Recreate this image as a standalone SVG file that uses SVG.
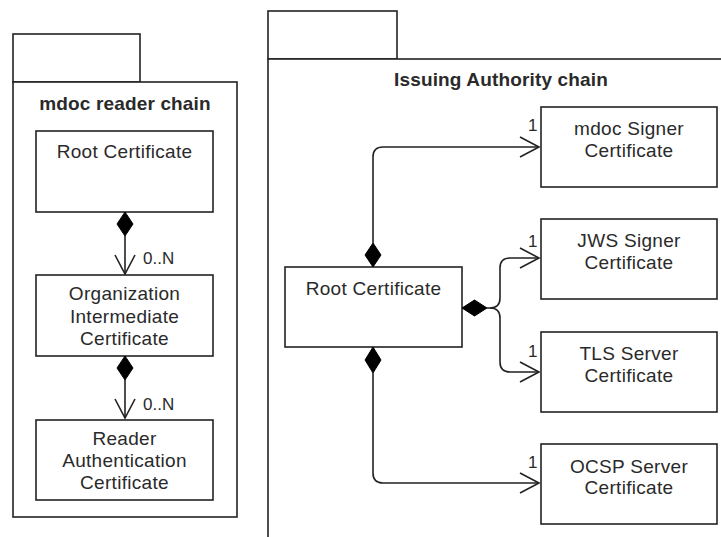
<svg xmlns="http://www.w3.org/2000/svg" width="721" height="537" viewBox="0 0 721 537">
  <defs>
    <style>
      .pkg { fill: #ffffff; stroke: #222222; stroke-width: 1.6; }
      .box { fill: #ffffff; stroke: #222222; stroke-width: 1.6; }
      .title { font-family: "Liberation Sans", Arial, sans-serif; font-size: 19px; font-weight: bold; fill: #2a2a2a; text-anchor: middle; letter-spacing: 0.15px; }
      .lbl { font-family: "Liberation Sans", Arial, sans-serif; font-size: 19px; fill: #2a2a2a; text-anchor: middle; letter-spacing: 0.3px; }
      .mult { font-family: "Liberation Sans", Arial, sans-serif; font-size: 17px; fill: #2a2a2a; }
      .edge { fill: none; stroke: #222222; stroke-width: 1.6; }
      .dia { fill: #000000; stroke: #000000; stroke-width: 1; }
    </style>
    <marker id="open" viewBox="0 0 22 22" refX="20" refY="11" markerWidth="22" markerHeight="22" markerUnits="userSpaceOnUse" orient="auto">
      <path d="M1,1 L20,11 L1,21" fill="none" stroke="#222222" stroke-width="1.6"/>
    </marker>
  </defs>

  <!-- left package: mdoc reader chain -->
  <g id="pkg-reader">
    <rect class="pkg" x="13" y="34" width="127" height="48"/>
    <rect class="pkg" x="13" y="82" width="224" height="435"/>
    <text class="title" x="125" y="110">mdoc reader chain</text>
  </g>

  <!-- right package: Issuing Authority chain -->
  <g id="pkg-issuing">
    <rect class="pkg" x="268" y="11" width="129" height="48"/>
    <rect class="pkg" x="268" y="59" width="470" height="500"/>
    <text class="title" x="501" y="86">Issuing Authority chain</text>
  </g>

  <!-- reader chain nodes -->
  <g id="reader-root">
    <rect class="box" x="36" y="131" width="177" height="81"/>
    <text class="lbl" x="124.5" y="158">Root Certificate</text>
  </g>
  <g id="reader-intermediate">
    <rect class="box" x="36" y="275" width="177" height="81"/>
    <text class="lbl" x="124.5" y="300">Organization</text>
    <text class="lbl" x="124.5" y="323">Intermediate</text>
    <text class="lbl" x="124.5" y="345">Certificate</text>
  </g>
  <g id="reader-auth">
    <rect class="box" x="36" y="420" width="177" height="80"/>
    <text class="lbl" x="124.5" y="445">Reader</text>
    <text class="lbl" x="124.5" y="467">Authentication</text>
    <text class="lbl" x="124.5" y="489">Certificate</text>
  </g>

  <!-- issuing chain nodes -->
  <g id="ia-root">
    <rect class="box" x="285" y="267" width="177" height="80"/>
    <text class="lbl" x="373.5" y="295">Root Certificate</text>
  </g>
  <g id="ia-mdoc-signer">
    <rect class="box" x="541" y="107" width="176" height="80"/>
    <text class="lbl" x="629" y="135">mdoc Signer</text>
    <text class="lbl" x="629" y="157">Certificate</text>
  </g>
  <g id="ia-jws-signer">
    <rect class="box" x="541" y="219" width="176" height="80"/>
    <text class="lbl" x="629" y="247">JWS Signer</text>
    <text class="lbl" x="629" y="269">Certificate</text>
  </g>
  <g id="ia-tls-server">
    <rect class="box" x="541" y="332" width="176" height="80"/>
    <text class="lbl" x="629" y="360">TLS Server</text>
    <text class="lbl" x="629" y="382">Certificate</text>
  </g>
  <g id="ia-ocsp-server">
    <rect class="box" x="541" y="444" width="176" height="80"/>
    <text class="lbl" x="629" y="473">OCSP Server</text>
    <text class="lbl" x="629" y="494">Certificate</text>
  </g>

  <!-- composition connectors -->
  <g id="connectors">
    <!-- reader chain -->
    <path class="edge" d="M125,236 V274" marker-end="url(#open)"/>
    <polygon class="dia" points="125,212 133,224 125,236 117,224"/>
    <text class="mult" x="143" y="264">0..N</text>

    <path class="edge" d="M125,380 V418" marker-end="url(#open)"/>
    <polygon class="dia" points="125,356 133,368 125,380 117,368"/>
    <text class="mult" x="143" y="410">0..N</text>

    <!-- issuing chain -->
    <path class="edge" d="M373,243 V157 Q373,147 383,147 H539" marker-end="url(#open)"/>
    <polygon class="dia" points="373,267 381,255 373,243 365,255"/>
    <text class="mult" x="528" y="131">1</text>

    <path class="edge" d="M487,308 H490 Q500,308 500,298 V268 Q500,258 510,258 H539" marker-end="url(#open)"/>
    <path class="edge" d="M490,308 Q500,308 500,318 V362 Q500,372 510,372 H539" marker-end="url(#open)"/>
    <polygon class="dia" points="462,308 474.5,300 487,308 474.5,316"/>
    <text class="mult" x="528" y="247">1</text>
    <text class="mult" x="528" y="357">1</text>

    <path class="edge" d="M373,373 V473 Q373,483 383,483 H539" marker-end="url(#open)"/>
    <polygon class="dia" points="373,347 381,360 373,373 365,360"/>
    <text class="mult" x="528" y="468">1</text>
  </g>
</svg>
